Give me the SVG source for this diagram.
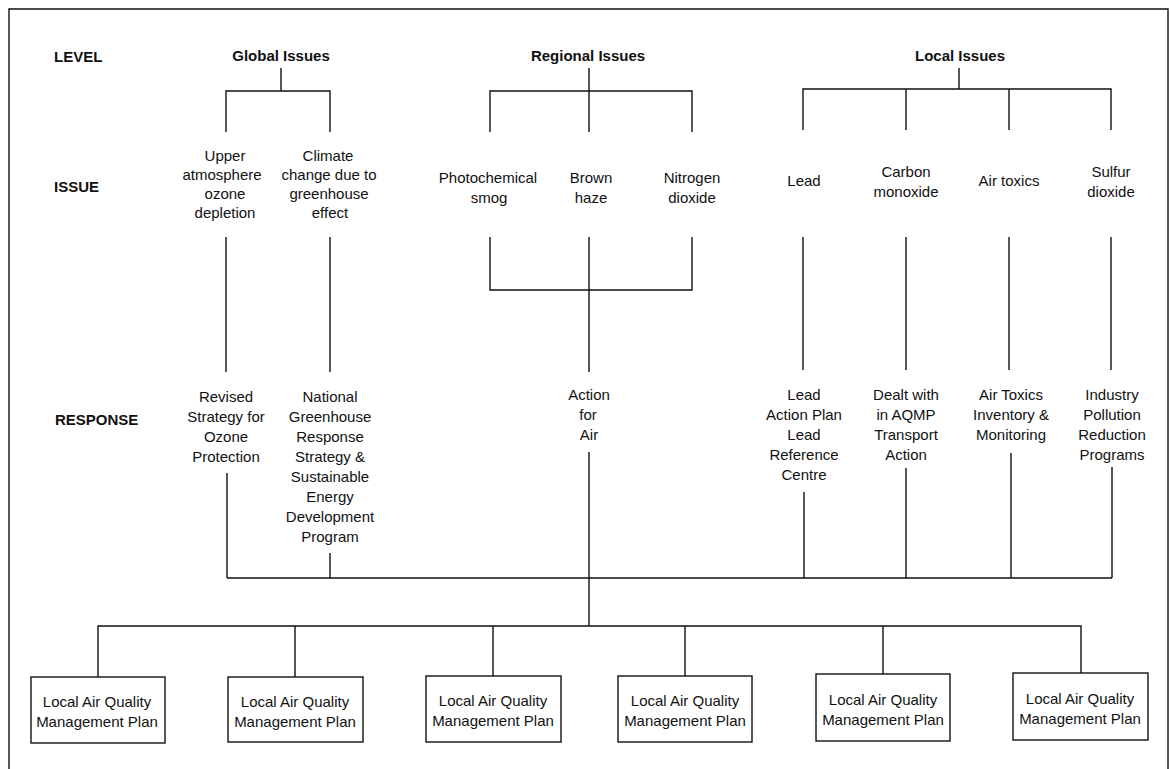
<svg xmlns="http://www.w3.org/2000/svg" width="1170" height="769" viewBox="0 0 1170 769">
<style>
text{font-family:"Liberation Sans",Arial,sans-serif;font-size:15px;fill:#111;text-anchor:middle}
.h{font-weight:bold}
.lab{font-weight:bold;text-anchor:start}
.ln{fill:none;stroke:#111;stroke-width:1.4}
.box{fill:#fff;stroke:#111;stroke-width:1.4}
</style>
<rect width="1170" height="769" fill="#fff"/>
<path class="ln" d="M9,769 V9 H1168 V769"/>
<g id="labels">
<text class="lab" x="54" y="62">LEVEL</text>
<text class="lab" x="54" y="192">ISSUE</text>
<text class="lab" x="55" y="425">RESPONSE</text>
</g>
<g id="connectors">
<path class="ln" d="M281,68 V91 M226,132 V91 H330 V132"/>
<path class="ln" d="M589,68 V91 M490,132 V91 H692 V132 M589,91 V132"/>
<path class="ln" d="M959,68 V89 M803,130 V89 H1111 V130 M906,89 V130 M1009,89 V130"/>
<path class="ln" d="M226,237 V372 M330,237 V372"/>
<path class="ln" d="M490,237 V290 H692 V237 M589,237 V372"/>
<path class="ln" d="M803,237 V370 M906,237 V370 M1009,237 V370 M1111,237 V370"/>
<path class="ln" d="M227,473 V578 M330,553 V578 M804,492 V578 M906,468 V578 M1011,453 V578 M1112,467 V578 M227,578 H1112"/>
<path class="ln" d="M589,452 V626"/>
<path class="ln" d="M98,677 V626 H1081 V673 M295,626 V677 M493,626 V676 M685,626 V676 M883,626 V674"/>
</g>
<g id="global"><text class="h" x="281" y="61">Global Issues</text></g>
<g id="regional"><text class="h" x="588" y="61">Regional  Issues</text></g>
<g id="local"><text class="h" x="960" y="61">Local  Issues</text></g>
<g id="issue-ozone"><text x="225" y="161">Upper</text><text x="222" y="180">atmosphere</text><text x="225" y="199">ozone</text><text x="225" y="218">depletion</text></g>
<g id="issue-climate"><text x="328" y="161">Climate</text><text x="329" y="180">change due to</text><text x="329" y="199">greenhouse</text><text x="330" y="218">effect</text></g>
<g id="issue-smog"><text x="488" y="183">Photochemical</text><text x="489" y="203">smog</text></g>
<g id="issue-haze"><text x="591" y="183">Brown</text><text x="591" y="203">haze</text></g>
<g id="issue-no2"><text x="692" y="183">Nitrogen</text><text x="692" y="203">dioxide</text></g>
<g id="issue-lead"><text x="804" y="186">Lead</text></g>
<g id="issue-co"><text x="906" y="177">Carbon</text><text x="906" y="197">monoxide</text></g>
<g id="issue-toxics"><text x="1009" y="186">Air toxics</text></g>
<g id="issue-so2"><text x="1111" y="177">Sulfur</text><text x="1111" y="197">dioxide</text></g>
<g id="resp-ozone"><text x="226" y="402">Revised</text><text x="226" y="422">Strategy for</text><text x="226" y="442">Ozone</text><text x="226" y="462">Protection</text></g>
<g id="resp-greenhouse"><text x="330" y="402">National</text><text x="330" y="422">Greenhouse</text><text x="330" y="442">Response</text><text x="330" y="462">Strategy &amp;</text><text x="330" y="482">Sustainable</text><text x="330" y="502">Energy</text><text x="330" y="522">Development</text><text x="330" y="542">Program</text></g>
<g id="resp-air"><text x="589" y="400">Action</text><text x="588" y="420">for</text><text x="589" y="440">Air</text></g>
<g id="resp-lead"><text x="804" y="400">Lead</text><text x="804" y="420">Action Plan</text><text x="804" y="440">Lead</text><text x="804" y="460">Reference</text><text x="804" y="480">Centre</text></g>
<g id="resp-co"><text x="906" y="400">Dealt with</text><text x="906" y="420">in AQMP</text><text x="906" y="440">Transport</text><text x="906" y="460">Action</text></g>
<g id="resp-toxics"><text x="1011" y="400">Air Toxics</text><text x="1011" y="420">Inventory &amp;</text><text x="1011" y="440">Monitoring</text></g>
<g id="resp-industry"><text x="1112" y="400">Industry</text><text x="1112" y="420">Pollution</text><text x="1112" y="440">Reduction</text><text x="1112" y="460">Programs</text></g>
<g id="plan1"><rect class="box" x="31" y="677" width="134" height="66"/><text x="97" y="707">Local Air Quality</text><text x="97" y="727">Management Plan</text></g>
<g id="plan2"><rect class="box" x="228" y="677" width="135" height="65"/><text x="295" y="707">Local Air Quality</text><text x="295" y="727">Management Plan</text></g>
<g id="plan3"><rect class="box" x="426" y="676" width="135" height="66"/><text x="493" y="706">Local Air Quality</text><text x="493" y="726">Management Plan</text></g>
<g id="plan4"><rect class="box" x="618" y="676" width="134" height="66"/><text x="685" y="706">Local Air Quality</text><text x="685" y="726">Management Plan</text></g>
<g id="plan5"><rect class="box" x="816" y="674" width="134" height="67"/><text x="883" y="705">Local Air Quality</text><text x="883" y="725">Management Plan</text></g>
<g id="plan6"><rect class="box" x="1013" y="673" width="135" height="67"/><text x="1080" y="704">Local Air Quality</text><text x="1080" y="724">Management Plan</text></g>
</svg>
